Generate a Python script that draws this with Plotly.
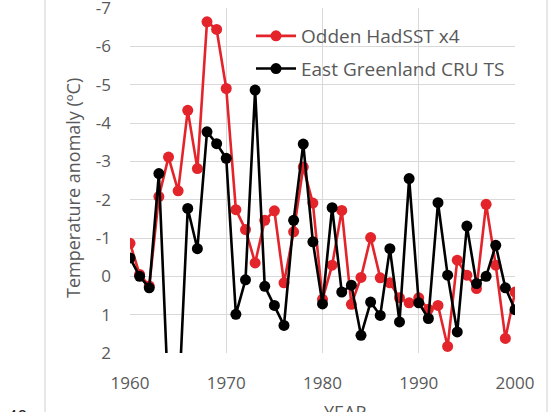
import plotly.graph_objects as go

years = list(range(1960, 2001))

odden_hadsst_x4 = [
    -0.86, -0.05, 0.25, -2.08, -3.11, -2.23, -4.33, -2.81, -6.64, -6.44,
    -4.90, -1.74, -1.22, -0.35, -1.46, -1.71, 0.17, -1.16, -2.85, -1.91,
    0.60, -0.29, -1.72, 0.73, 0.03, -1.01, 0.04, 0.17, 0.56, 0.69,
    0.56, 0.86, 0.76, 1.83, -0.42, -0.03, 0.32, -1.88, -0.29, 1.62,
    0.41,
]

east_greenland_cru_ts = [
    -0.48, 0.00, 0.30, -2.68, 3.30, 3.60, -1.77, -0.72, -3.77, -3.46,
    -3.08, 0.99, 0.09, -4.86, 0.26, 0.76, 1.28, -1.46, -3.45, -0.90,
    0.72, -1.79, 0.41, 0.23, 1.54, 0.67, 1.02, -0.72, 1.19, -2.55,
    0.69, 1.10, -1.92, -0.03, 1.45, -1.31, 0.19, 0.00, -0.81, 0.30,
    0.87,
]

series_names = ["Odden HadSST x4", "East Greenland CRU TS"]
series_colors = ["#E3242B", "#000000"]

y_tick_vals = [-7, -6, -5, -4, -3, -2, -1, 0, 1, 2]
y_tick_text = ["-7", "-6", "-5", "-4", "-3", "-2", "-1", "0", "1", "2"]
x_tick_vals = [1960, 1970, 1980, 1990, 2000]
x_tick_text = ["1960", "1970", "1980", "1990", "2000"]

W, H = 551, 412
ML, MR, MT, MB = 130, 36, 8, 59
PW, PH = W - ML - MR, H - MT - MB


def px_x(px):
    return (px - ML) / PW


def px_y(py):
    return (H - MB - py) / PH


FONT = "Open Sans"
GRAY = "#595959"
GRID = "#D9D9D9"

fig = go.Figure()
for i, (name, vals) in enumerate(zip(series_names, [odden_hadsst_x4, east_greenland_cru_ts])):
    fig.add_trace(go.Scatter(
        x=years, y=vals, name=name, mode="lines+markers",
        line=dict(color=series_colors[i], width=2.6),
        marker=dict(color=series_colors[i], size=11),
        legendgroup=f"g{i}",
    ))

fig.update_layout(
    width=W, height=H,
    margin=dict(l=ML, r=MR, t=MT, b=MB, pad=0, autoexpand=False),
    paper_bgcolor="white", plot_bgcolor="white",
    font=dict(family=FONT, color=GRAY),
    showlegend=True,
    legend=dict(
        x=px_x(251), y=px_y(17), xanchor="left", yanchor="top",
        bgcolor="rgba(0,0,0,0)", font=dict(size=19, color=GRAY, family=FONT),
        traceorder="grouped", tracegroupgap=5, itemwidth=40,
    ),
    xaxis=dict(
        range=[1960, 2000], tickvals=x_tick_vals, ticktext=x_tick_text,
        showgrid=True, gridcolor=GRID, gridwidth=1, zeroline=False,
        showline=False, ticks="", ticklabelstandoff=18,
        ticklabeloverflow="allow", automargin=False,
        tickfont=dict(size=17, color=GRAY, family=FONT),
    ),
    yaxis=dict(
        range=[2, -7], tickvals=y_tick_vals, ticktext=y_tick_text,
        showgrid=True, gridcolor=GRID, gridwidth=1, zeroline=False,
        showline=False, ticks="", ticklabelstandoff=18,
        ticklabeloverflow="allow", automargin=False,
        tickfont=dict(size=17, color=GRAY, family=FONT),
    ),
    annotations=[
        dict(text="Temperature anomaly (ºC)", xref="paper", yref="paper",
             x=px_x(73), y=px_y(188), xanchor="center", yanchor="middle",
             textangle=-90, showarrow=False,
             font=dict(size=18, color=GRAY, family=FONT)),
        dict(text="YEAR", xref="paper", yref="paper",
             x=px_x(345), y=px_y(412), xanchor="center", yanchor="middle",
             showarrow=False, font=dict(size=18, color=GRAY, family=FONT)),
        dict(text="40", xref="paper", yref="paper",
             x=px_x(17), y=px_y(416), xanchor="center", yanchor="middle",
             showarrow=False, font=dict(size=18, color="#222222", family=FONT)),
    ],
    shapes=[
        dict(type="line", xref="paper", yref="paper",
             x0=px_x(45), x1=px_x(45), y0=px_y(0), y1=px_y(H),
             line=dict(color="#D0D0D0", width=1)),
        dict(type="line", xref="paper", yref="paper",
             x0=px_x(547), x1=px_x(547), y0=px_y(0), y1=px_y(H),
             line=dict(color="#D0D0D0", width=1)),
    ],
)

fig.write_html("out.html")
